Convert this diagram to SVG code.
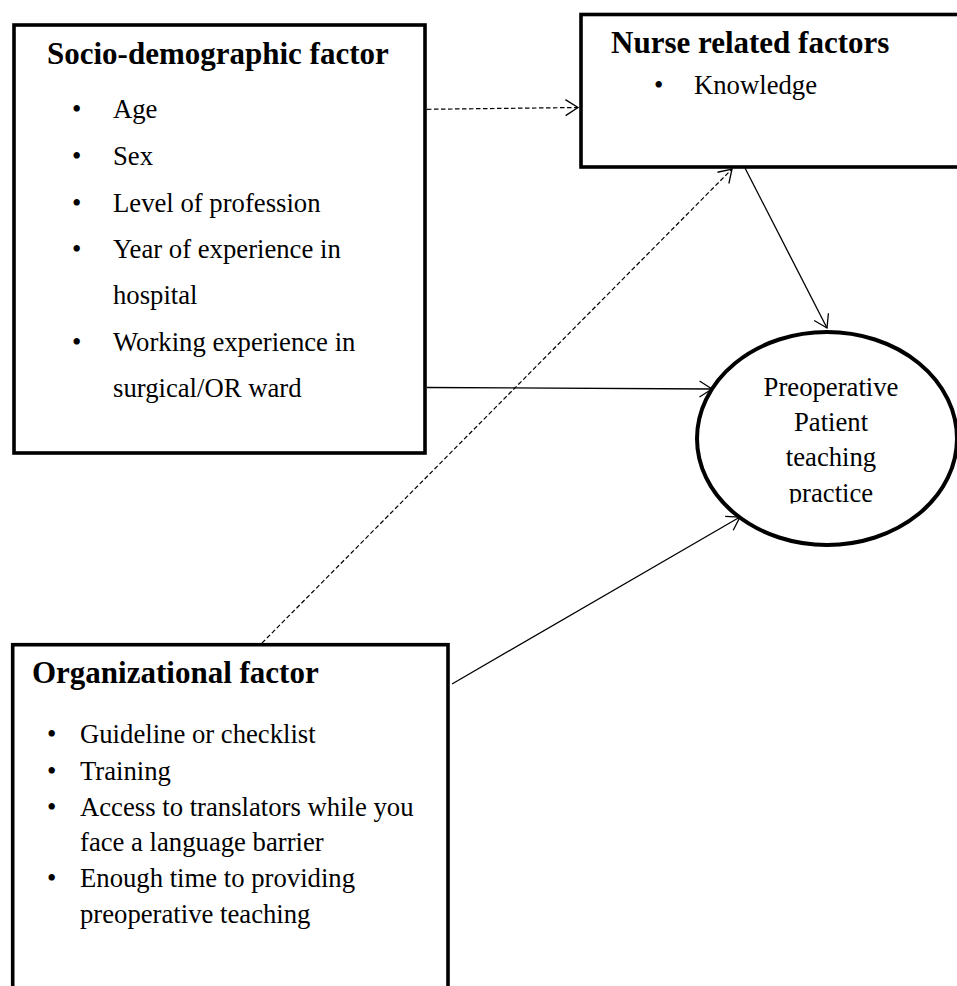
<svg xmlns="http://www.w3.org/2000/svg" width="957" height="986" viewBox="0 0 957 986">
<style>
.box{fill:#fff;stroke:#000;stroke-width:3.6}
.t{font-family:"Liberation Serif","Times New Roman",serif;font-weight:bold;font-size:31px;fill:#000}
.b{font-family:"Liberation Serif","Times New Roman",serif;font-size:26.7px;fill:#000}
.c{stroke:#000;stroke-width:1.3;fill:none;marker-end:url(#ah)}
.d{stroke-dasharray:4.5 2.5;stroke-width:1.2}
</style>
<defs>
<marker id="ah" markerUnits="userSpaceOnUse" viewBox="-15 -10 17 20" markerWidth="17" markerHeight="20" refX="0" refY="0" orient="auto">
<path d="M-12.5,-8 L0,0 L-12.5,8" fill="none" stroke="#000" stroke-width="1.3"/>
</marker>
<clipPath id="ec"><rect x="690" y="320" width="270" height="183.5"/></clipPath>
</defs>
<rect width="957" height="986" fill="#fff"/>
<g id="socio">
<rect class="box" x="14" y="25" width="411" height="428"/>
<text class="t" x="47" y="64">Socio-demographic factor</text>
<text class="b" x="72" y="118">•</text><text class="b" x="113" y="118">Age</text>
<text class="b" x="72" y="165">•</text><text class="b" x="113" y="165">Sex</text>
<text class="b" x="72" y="212">•</text><text class="b" x="113" y="212">Level of profession</text>
<text class="b" x="72" y="258">•</text><text class="b" x="113" y="258">Year of experience in</text>
<text class="b" x="113" y="304">hospital</text>
<text class="b" x="72" y="351">•</text><text class="b" x="113" y="351">Working experience in</text>
<text class="b" x="113" y="397">surgical/OR ward</text>
</g>
<g id="nurse">
<rect class="box" x="581" y="14.5" width="400" height="152.5"/>
<text class="t" x="611" y="53">Nurse related factors</text>
<text class="b" x="654" y="94">•</text><text class="b" x="694" y="94">Knowledge</text>
</g>
<g id="practice">
<ellipse cx="827" cy="438.5" rx="130" ry="106.5" fill="#fff" stroke="#000" stroke-width="4"/>
<g clip-path="url(#ec)" text-anchor="middle">
<text class="b" x="831" y="396">Preoperative</text>
<text class="b" x="831" y="431">Patient</text>
<text class="b" x="831" y="466">teaching</text>
<text class="b" x="831" y="502">practice</text>
</g>
</g>
<g id="org">
<rect class="box" x="12.7" y="644.7" width="435.3" height="400"/>
<text class="t" x="32" y="683">Organizational factor</text>
<text class="b" x="47" y="743">•</text><text class="b" x="80" y="743">Guideline or checklist</text>
<text class="b" x="47" y="780">•</text><text class="b" x="80" y="780">Training</text>
<text class="b" x="47" y="816">•</text><text class="b" x="80" y="816">Access to translators while you</text>
<text class="b" x="80" y="851">face a language barrier</text>
<text class="b" x="47" y="887">•</text><text class="b" x="80" y="887">Enough time to providing</text>
<text class="b" x="80" y="923">preoperative teaching</text>
</g>
<g id="connectors">
<path class="c d" d="M427,109.3 L578,107.5"/>
<path class="c" d="M427,387.5 L712,389"/>
<path class="c d" d="M262,643 L732,169"/>
<path class="c" d="M745,168 L827,328"/>
<path class="c" d="M452,684 L740,517"/>
</g>
</svg>
